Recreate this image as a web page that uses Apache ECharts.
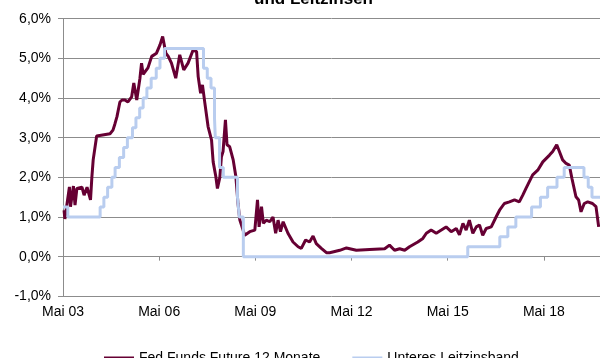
<!DOCTYPE html>
<html>
<head>
<meta charset="utf-8">
<script src="https://cdn.jsdelivr.net/npm/echarts@6/dist/echarts.min.js"></script>
<style>
  html, body { margin: 0; padding: 0; background: #fff; }
  #chart { width: 600px; height: 358px; }
</style>
</head>
<body>
<div id="chart"></div>
<script>
// x = Monate seit Mai 2003
const tickLabels = ['Mai 03', 'Mai 06', 'Mai 09', 'Mai 12', 'Mai 15', 'Mai 18']

const futMonths = [
  0.4, 0.7, 2.4, 2.8, 3.9, 4.5, 5.2, 7.1, 7.9, 9.0, 10.3, 10.8, 11.3, 12.6, 17.6, 18.7,
  19.4, 20.2, 21.3, 22.1, 23.2, 24.3, 25.7, 26.5, 27.6, 28.8, 29.4, 30.0, 31.8, 33.2, 35.0, 36.3,
  37.3, 38.5, 39.4, 40.6, 42.2, 43.7, 45.2, 46.8, 48.7, 50.0, 50.6, 51.5, 52.2, 53.1, 54.3, 55.6,
  56.2, 57.2, 57.8, 58.7, 59.3, 59.9, 60.8, 61.4, 62.4, 63.7, 64.7, 65.5, 66.2, 67.4, 68.0, 69.9,
  71.8, 72.8, 73.4, 74.3, 75.0, 76.1, 77.4, 78.6, 79.6, 80.5, 81.4, 82.4, 84.2, 86.1, 88.0, 89.2,
  90.8, 92.3, 93.6, 94.8, 96.7, 98.6, 99.8, 103.6, 106.1, 109.8, 114.8, 120.4, 122.2, 124.1, 126.0, 127.9,
  129.7, 132.8, 134.7, 136.0, 137.8, 139.7, 141.6, 143.4, 145.3, 147.2, 148.4, 149.7, 150.9, 152.1, 153.4, 154.7,
  155.9, 157.1, 158.4, 160.3, 162.1, 163.4, 165.2, 167.1, 169.0, 170.8, 172.1, 173.3, 175.8, 177.7, 179.6, 182.1,
  183.3, 184.8, 185.8, 187.0, 188.3, 189.5, 190.5, 192.0, 193.0, 193.9, 195.1, 196.4, 198.2, 199.5, 200.5
]
const futValues = [
  1.17, 0.95, 1.76, 1.26, 1.78, 1.3, 1.72, 1.75, 1.55, 1.75, 1.43, 2.0, 2.44, 3.04, 3.1, 3.19,
  3.34, 3.53, 3.9, 3.95, 3.95, 3.9, 4.03, 4.38, 3.95, 4.5, 4.88, 4.6, 4.76, 5.05, 5.13, 5.34,
  5.55, 5.13, 5.05, 4.88, 4.5, 5.09, 4.71, 4.88, 5.21, 5.17, 4.54, 4.12, 4.33, 3.87, 3.28, 2.94,
  2.39, 2.02, 1.72, 2.0, 2.52, 2.65, 3.45, 2.82, 2.77, 2.44, 2.02, 1.34, 0.92, 0.67, 0.54, 0.63,
  0.67, 1.43, 0.75, 1.26, 0.84, 0.92, 0.88, 1.0, 0.59, 0.92, 0.63, 0.88, 0.59, 0.37, 0.25, 0.21,
  0.42, 0.37, 0.52, 0.33, 0.21, 0.1, 0.1, 0.16, 0.22, 0.16, 0.18, 0.2, 0.29, 0.16, 0.2, 0.16,
  0.25, 0.37, 0.46, 0.59, 0.67, 0.59, 0.67, 0.75, 0.63, 0.71, 0.55, 0.84, 0.67, 0.92, 0.59, 0.75,
  0.8, 0.54, 0.71, 0.75, 1.0, 1.17, 1.34, 1.38, 1.43, 1.38, 1.55, 1.72, 2.06, 2.18, 2.39, 2.56,
  2.65, 2.82, 2.65, 2.44, 2.35, 2.31, 1.97, 1.51, 1.43, 1.13, 1.34, 1.38, 1.34, 1.26, 0.75
]

const bandMonths = [
  0, 1.8, 13.9, 15.3, 16.7, 18.3, 19.5, 21.1, 22.7, 24.1, 26.0, 27.3, 28.7, 30.0, 31.4, 33.0,
  34.9, 36.3, 38.0, 52.6, 54.0, 55.4, 56.7, 57.0, 58.6, 60.0, 65.3, 66.0, 67.5, 151.5, 163.5, 166.5,
  169.5, 175.4, 178.7, 181.4, 184.9, 187.6, 195.0, 196.6, 198.0, 201
]
const bandValues = [
  1.25, 1.0, 1.25, 1.5, 1.75, 2.0, 2.25, 2.5, 2.75, 3.0, 3.25, 3.5, 3.75, 4.0, 4.25, 4.5,
  4.75, 5.0, 5.25, 4.75, 4.5, 4.25, 3.5, 3.0, 2.25, 2.0, 1.5, 1.0, 0.0, 0.25, 0.5, 0.75,
  1.0, 1.25, 1.5, 1.75, 2.0, 2.25, 2.0, 1.75, 1.5, 1.5
]

const chart = echarts.init(document.getElementById('chart'))
const font = 'Liberation Sans, Arial, sans-serif'

chart.setOption({
  animation: false,
  title: {
    text: 'und Leitzinsen',
    left: 249,
    top: -14,
    textStyle: { fontFamily: font, fontSize: 17, fontWeight: 'bold', color: '#000' }
  },
  legend: {
    left: 99,
    top: 346,
    icon: 'rect',
    itemWidth: 30,
    itemHeight: 3,
    itemGap: 32,
    textStyle: { fontFamily: font, fontSize: 14, color: '#000' },
    data: ['Fed Funds Future 12 Monate', 'Unteres Leitzinsband']
  },
  grid: { left: 63, right: 0, top: 18.7, bottom: 61.7 },
  xAxis: {
    type: 'value',
    min: 0,
    max: 201,
    interval: 36,
    splitLine: { show: false },
    axisLine: { onZero: true, lineStyle: { color: '#8c8c8c' } },
    axisTick: { show: true, length: 4, lineStyle: { color: '#8c8c8c' } },
    axisLabel: {
      margin: 9,
      fontFamily: font,
      fontSize: 14,
      color: '#000',
      showMaxLabel: false,
      formatter: (v) => tickLabels[Math.round(v / 36)] || ''
    }
  },
  yAxis: {
    type: 'value',
    min: -1,
    max: 6,
    interval: 1,
    splitLine: { lineStyle: { color: '#8c8c8c' } },
    axisLine: { show: true, lineStyle: { color: '#8c8c8c' } },
    axisTick: { show: true, length: 5, lineStyle: { color: '#8c8c8c' } },
    axisLabel: {
      margin: 12,
      fontFamily: font,
      fontSize: 14,
      color: '#000',
      formatter: (v) => v.toFixed(1).replace('.', ',') + '%'
    }
  },
  series: [
    {
      name: 'Fed Funds Future 12 Monate',
      type: 'line',
      showSymbol: false,
      data: futMonths.map((m, i) => [m, futValues[i]]),
      itemStyle: { color: '#660033' },
      lineStyle: { color: '#660033', width: 3 }
    },
    {
      name: 'Unteres Leitzinsband',
      type: 'line',
      step: 'end',
      showSymbol: false,
      data: bandMonths.map((m, i) => [m, bandValues[i]]),
      itemStyle: { color: '#b9cdef' },
      lineStyle: { color: '#b9cdef', width: 3 }
    }
  ]
})
</script>
</body>
</html>
